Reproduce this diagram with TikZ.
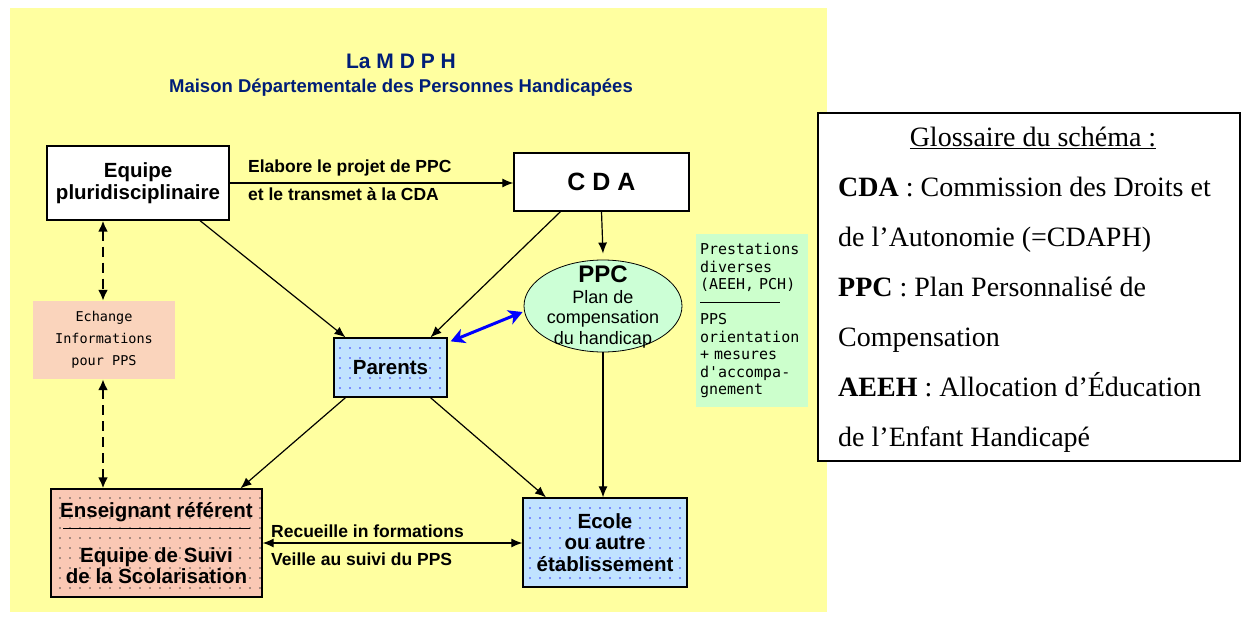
\documentclass[tikz,border=0pt]{standalone}
\usepackage{fontspec}
\setmainfont{Liberation Serif}
\setsansfont{Liberation Sans}
\newfontfamily\pixfont{DejaVu Sans Mono}
\usetikzlibrary{shapes.geometric,arrows.meta,patterns.meta}

\definecolor{bgyellow}{RGB}{255,255,160}
\definecolor{skyfill}{RGB}{192,226,255}
\definecolor{rosefill}{RGB}{250,200,180}
\definecolor{peachfill}{RGB}{250,212,188}
\definecolor{mintfill}{RGB}{204,255,214}
\definecolor{greenfill}{RGB}{204,255,204}
\definecolor{navy}{RGB}{0,30,120}

\begin{document}
\begin{tikzpicture}[x=1pt, y=-1pt,
    box/.style={draw, line width=1.3pt, inner sep=0pt, align=center, font=\sffamily\bfseries\fontsize{20.5}{21.5}\selectfont},
    dotbox/.style={box, preaction={fill=#1}, pattern={Dots[distance=10pt,radius=0.85pt]}, pattern color=blue!80},
    softbox/.style={fill=#1, inner sep=0pt},
    lbl/.style={anchor=base west, inner sep=0pt, font=\sffamily\bfseries\fontsize{17.5}{19}\selectfont},
    arrow/.style={-{Latex[length=11pt,width=9pt]}, line width=1.2pt},
    dblarrow/.style={{Latex[length=11pt,width=9pt]}-{Latex[length=11pt,width=9pt]}, line width=1.2pt},
    dasharrow/.style={{Latex[length=11pt,width=10pt]}-{Latex[length=11pt,width=10pt]}, line width=2.6pt, dash pattern=on 10pt off 6pt},
    bluearrow/.style={{Stealth[length=14pt,width=15pt,inset=4pt]}-{Stealth[length=14pt,width=15pt,inset=4pt]}, line width=3pt, blue},
    gloss/.style={anchor=base west, inner sep=0pt, font=\fontsize{28}{30}\selectfont}
]

\fill[white] (0,0) rectangle (1242,618);
\useasboundingbox (0,0) rectangle (1242,618);
\fill[bgyellow] (10,8) rectangle (827,612);

% titre
\node[text=navy, font=\sffamily\bfseries\fontsize{21}{23}\selectfont] (title) at (401,61) {La M D P H};
\node[text=navy, font=\sffamily\bfseries\fontsize{18.5}{20}\selectfont] (subtitle) at (401,88) {Maison Départementale des Personnes Handicapées};

% noeuds
\node[box, fill=white, minimum width=182pt, minimum height=74pt] (equipe) at (138,183) {Equipe\\pluridisciplinaire};
\node[box, fill=white, minimum width=175pt, minimum height=58pt, font=\sffamily\bfseries\fontsize{25}{28}\selectfont] (cda) at (601.5,182) {C D A};
\node[draw, line width=0.8pt, fill=mintfill, ellipse, minimum width=158pt, minimum height=92pt, inner sep=0pt] (ppc) at (603,306) {};
\node[align=center, inner sep=0pt, font=\sffamily\fontsize{18}{20.5}\selectfont] (ppctext) at (603,307) {{\bfseries\fontsize{24}{23}\selectfont PPC}\\Plan de\\compensation\\du handicap};
\node[softbox=greenfill, minimum width=112pt, minimum height=173pt, text width=104pt, align=left, font=\pixfont\fontsize{15}{17.5}\selectfont] (prest) at (752,320.5) {Prestations\\diverses\\(AEEH, PCH)\\\rule[4pt]{80pt}{1.2pt}\\PPS\\orientation\\+ mesures\\d'accompa-\\gnement};
\node[dotbox=skyfill, minimum width=113pt, minimum height=59pt] (parents) at (390.5,367.5) {Parents};
\node[softbox=peachfill, minimum width=142pt, minimum height=78pt, align=center, font=\pixfont\fontsize{13.5}{22}\selectfont] (echange) at (104,340) {Echange\\Informations\\pour PPS};
\node[dotbox=rosefill, pattern color=black!70, minimum width=211pt, minimum height=108pt] (ens) at (156.5,543) {Enseignant référent\\[23.5pt]Equipe de Suivi\\de la Scolarisation};
\node[dotbox=skyfill, minimum width=164pt, minimum height=89pt] (ecole) at (605,542.5) {Ecole\\ou autre\\établissement};
\draw[line width=1pt] ([xshift=13pt,yshift=15pt]ens.west) -- ([xshift=-13pt,yshift=15pt]ens.east);

% fleches
\draw[arrow] (equipe.east) -- (equipe.east -| cda.west);
\node[lbl] (elabore) at (248,172) {Elabore le projet de PPC};
\node[lbl] (transmet) at (248,200) {et le transmet à la CDA};
\draw[arrow] ([xshift=62pt]equipe.south) -- ([xshift=-45pt]parents.north);
\draw[arrow] ([xshift=-41pt]cda.south) -- ([xshift=40pt]parents.north);
\draw[arrow] (cda.south) -- ([yshift=6pt]ppc.north);
\draw[arrow] (ppc.south) -- (ppc.south |- ecole.north);
\draw[bluearrow] ([xshift=3pt,yshift=-4pt]parents.north east) -- ([xshift=-1pt,yshift=-6pt]ppc.west);
\draw[arrow] ([xshift=-45pt]parents.south) -- ([xshift=84pt]ens.north);
\draw[arrow] ([xshift=40pt]parents.south) -- ([xshift=-59pt]ecole.north);
\draw[dblarrow] (ens.east) -- (ens.east -| ecole.west);
\node[lbl] (recueille) at (271,537) {Recueille in formations};
\node[lbl] (veille) at (271,565) {Veille au suivi du PPS};
\draw[dasharrow] ([xshift=-35pt]equipe.south) -- ([xshift=-1pt]echange.north);
\draw[dasharrow] ([xshift=-1pt]echange.south) -- ([xshift=-1pt]echange.south |- ens.north);

% glossaire
\node[draw, line width=1.3pt, fill=white, minimum width=422pt, minimum height=348pt, inner sep=0pt] (glossaire) at (1029,287) {};
\node[gloss, anchor=base] (glosstitle) at (1033,146) {\underline{Glossaire du schéma :}};
\foreach \ligne [count=\i] in {{\textbf{CDA} : Commission des Droits et}, {de l’Autonomie (=CDAPH)}, {\textbf{PPC} : Plan Personnalisé de}, {Compensation}, {\textbf{AEEH} : Allocation d’Éducation}, {de l’Enfant Handicapé}}
  \node[gloss] (gl\i) at (838,{146+50*\i}) {\ligne};

\end{tikzpicture}
\end{document}
